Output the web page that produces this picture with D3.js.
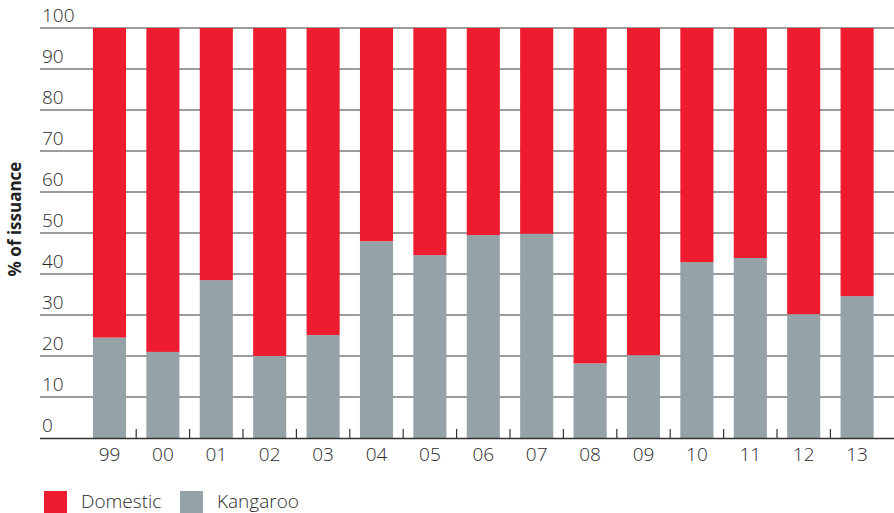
<!DOCTYPE html>
<html><head><meta charset="utf-8">
<script src="https://cdn.jsdelivr.net/npm/d3@7"></script>
<style>
body{margin:0;background:#fff;}
svg text{font-family:"Open Sans","Noto Sans",sans-serif;}
</style></head>
<body><svg id="c" width="894" height="513"></svg>
<script>
const years = ["99","00","01","02","03","04","05","06","07","08","09","10","11","12","13"];
const kangaroo = [24.5,21.0,38.5,20.0,25.1,48.0,44.6,49.5,49.8,18.2,20.2,42.9,43.9,30.2,34.6];
const domestic = kangaroo.map(v => 100 - v);
const yTicks = [0,10,20,30,40,50,60,70,80,90,100];
const seriesNames = ["Domestic","Kangaroo"];
const colors = {Domestic:"#ED1C2E", Kangaroo:"#95A3A9"};

const svg = d3.select("#c");
const x = d3.scaleBand().domain(years).range([82.8, 883.8]).paddingInner(0.38).paddingOuter(0.19);
const y = d3.scaleLinear().domain([0,100]).range([438, 28]);

// gridlines
svg.append("g").selectAll("line").data(yTicks.filter(t=>t>0)).join("line")
  .attr("x1",40).attr("x2",894).attr("y1",d=>y(d)).attr("y2",d=>y(d))
  .attr("stroke","#7a7a7a").attr("stroke-width",1.6);

// y labels
svg.append("g").selectAll("text").data(yTicks).join("text")
  .attr("x",42).attr("y",d=>y(d)-6).text(d=>d)
  .attr("font-size",19).attr("font-weight",300).attr("fill","#2a2a2a");

// stacked bars
const data = years.map((yr,i)=>({year:yr, Kangaroo:kangaroo[i], Domestic:domestic[i]}));
const stack = d3.stack().keys(["Kangaroo","Domestic"])(data);
svg.append("g").selectAll("g").data(stack).join("g")
  .attr("fill",d=>colors[d.key])
  .selectAll("rect").data(d=>d).join("rect")
  .attr("x",d=>x(d.data.year)).attr("width",x.bandwidth())
  .attr("y",d=>y(d[1])).attr("height",d=>y(d[0])-y(d[1]));

// baseline
svg.append("line").attr("x1",40).attr("x2",894).attr("y1",438.5).attr("y2",438.5)
  .attr("stroke","#333").attr("stroke-width",1.3);

// ticks between categories
const step = x.step();
svg.append("g").selectAll("line").data(years.slice(1)).join("line")
  .attr("x1",d=>x(d)-(step-x.bandwidth())/2).attr("x2",d=>x(d)-(step-x.bandwidth())/2)
  .attr("y1",429).attr("y2",438)
  .attr("stroke","#333").attr("stroke-width",1.2);

// x labels
svg.append("g").selectAll("text").data(years).join("text")
  .attr("x",d=>x(d)+x.bandwidth()/2).attr("y",461).attr("text-anchor","middle")
  .text(d=>d).attr("font-size",19).attr("font-weight",300).attr("fill","#2a2a2a");

// y title
svg.append("text").attr("transform","translate(21,219) rotate(-90)")
  .attr("text-anchor","middle").attr("font-size",17).attr("font-weight",700).attr("fill","#222")
  .text("% of issuance");

// legend
const leg = svg.append("g");
const legX = [44, 180];
seriesNames.forEach((s,i)=>{
  leg.append("rect").attr("x",legX[i]).attr("y",491).attr("width",23).attr("height",22).attr("fill",colors[s]);
  leg.append("text").attr("x",legX[i]+37).attr("y",508).text(s)
    .attr("font-size",19).attr("font-weight",300).attr("fill","#2a2a2a");
});
</script></body></html>
